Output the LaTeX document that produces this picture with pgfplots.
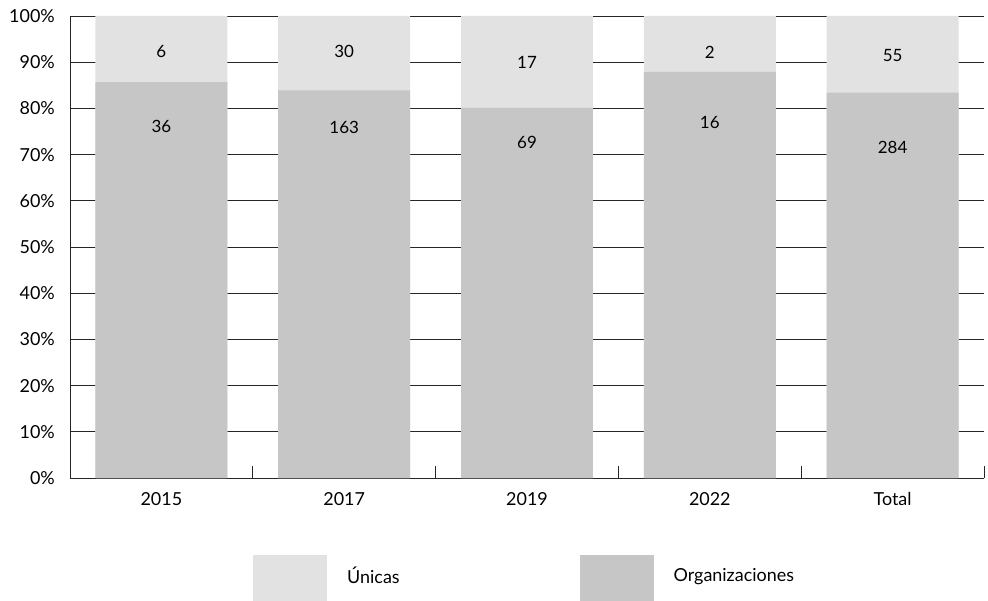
\documentclass[border=0pt]{standalone}
\usepackage{pgfplots}
\pgfplotsset{compat=1.18}
\usepackage{pgfplotstable}
\usepackage{fontspec}
\setmainfont{Lato}
\definecolor{uni}{HTML}{E2E2E2}
\definecolor{org}{HTML}{C6C6C6}

% x, organizaciones %, total (100%), org count, unicas count, label y for org, label y for unicas
\pgfplotstableread{
x orgpct tot orgn unin orgly unily
0 85.7 100 36 6 76.0 92.4
1 83.9 100 163 30 75.9 92.4
2 80.1 100 69 17 72.7 90.0
3 87.9 100 16 2 77.0 92.2
4 83.4 100 284 55 71.6 91.5
}\data

\begin{document}
\begin{tikzpicture}
\useasboundingbox (-70bp,-123bp) rectangle (918bp,478bp);
\begin{axis}[
  at={(0,0)}, anchor=south west,
  scale only axis, width=914bp, height=462bp,
  xmin=-0.5, xmax=4.5, ymin=0, ymax=100,
  axis x line*=bottom, axis y line*=left,
  axis line style={black!85, line width=0.8pt, -},
  xtick={0,1,2,3,4},
  xticklabels={2015,2017,2019,2022,Total},
  minor xtick={0.5,1.5,2.5,3.5,4.5},
  ytick={0,10,...,100},
  yticklabel={\pgfmathprintnumber{\tick}\%},
  major tick length=0pt,
  minor tick length=12bp,
  tick align=inside,
  minor tick style={black!85, line width=0.8pt},
  ymajorgrids,
  major grid style={black!85, line width=0.8pt},
  tick label style={font=\fontsize{18}{21}\selectfont},
  /pgf/number format/assume math mode=true,
  yticklabel style={anchor=east, inner sep=0pt, xshift=-15bp},
  xticklabel style={anchor=north, inner sep=0pt, yshift=-14bp},
  clip=false,
  legend columns=2,
  legend style={at={(183bp,-77bp)}, anchor=north west, draw=none, inner sep=0pt,
    font=\fontsize{18}{21}\selectfont,
    /tikz/every odd column/.append style={column sep=20bp},
    /tikz/every even column/.append style={column sep=180bp},
    nodes={inner sep=0pt}},
  legend cell align=left,
]
\addplot[ybar, bar width=0.722, bar shift=0pt, fill=uni, draw=none,
  legend image code/.code={\fill[uni] (0bp,-25bp) rectangle (74bp,21bp);}]
  table[x=x, y=tot] {\data};
\addlegendentry{Únicas}
\addplot[ybar, bar width=0.722, bar shift=0pt, fill=org, draw=none,
  legend image code/.code={\fill[org] (0bp,-25bp) rectangle (74bp,21bp);}]
  table[x=x, y=orgpct] {\data};
\addlegendentry{Organizaciones}
\addplot[draw=none, forget plot, nodes near coords, point meta=explicit symbolic,
  every node near coord/.append style={anchor=center, font=\fontsize{17}{20}\selectfont}]
  table[x=x, y=unily, meta=unin] {\data};
\addplot[draw=none, forget plot, nodes near coords, point meta=explicit symbolic,
  every node near coord/.append style={anchor=center, font=\fontsize{17}{20}\selectfont}]
  table[x=x, y=orgly, meta=orgn] {\data};
\end{axis}
\end{tikzpicture}
\end{document}
